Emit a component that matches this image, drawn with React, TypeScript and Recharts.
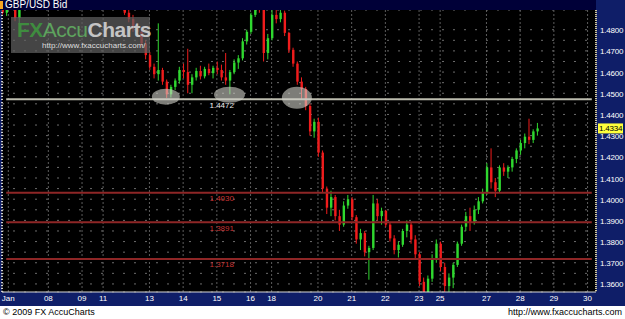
import React from 'react';
import {
  ComposedChart,
  Bar,
  XAxis,
  YAxis,
  CartesianGrid,
  ReferenceLine,
  ReferenceDot,
} from 'recharts';

// GBP/USD Bid, 3-hour bars, one array per trading session: [open, high, low, close]
const jan06 = [
  [1.4925, 1.495, 1.4872, 1.488],
  [1.488, 1.4915, 1.4865, 1.4905],
  [1.4905, 1.496, 1.4895, 1.4945],
];
const jan07 = [
  [1.4945, 1.4955, 1.484, 1.4855],
  [1.4855, 1.4925, 1.4825, 1.491],
  [1.491, 1.501, 1.49, 1.4995],
  [1.4995, 1.508, 1.498, 1.506],
  [1.506, 1.512, 1.503, 1.51],
  [1.51, 1.516, 1.506, 1.508],
  [1.508, 1.513, 1.502, 1.505],
  [1.505, 1.511, 1.501, 1.509],
];
const jan08 = [
  [1.509, 1.514, 1.504, 1.507],
  [1.507, 1.509, 1.499, 1.501],
  [1.501, 1.506, 1.496, 1.504],
  [1.504, 1.512, 1.502, 1.51],
  [1.51, 1.518, 1.508, 1.515],
  [1.515, 1.521, 1.511, 1.513],
  [1.513, 1.517, 1.509, 1.516],
  [1.516, 1.522, 1.513, 1.519],
];
const jan09 = [
  [1.519, 1.525, 1.515, 1.522],
  [1.522, 1.528, 1.517, 1.52],
  [1.52, 1.523, 1.51, 1.512],
  [1.512, 1.516, 1.505, 1.508],
  [1.508, 1.513, 1.504, 1.511],
];
const jan11 = [
  [1.51, 1.513, 1.506, 1.508],
  [1.508, 1.51, 1.502, 1.504],
  [1.504, 1.507, 1.499, 1.501],
];
const jan12 = [
  [1.501, 1.503, 1.494, 1.496],
  [1.496, 1.499, 1.491, 1.493],
  [1.493, 1.495, 1.487, 1.488],
  [1.488, 1.49, 1.4835, 1.485],
  [1.485, 1.487, 1.479, 1.481],
  [1.481, 1.483, 1.477, 1.479],
  [1.479, 1.48, 1.472, 1.4735],
  [1.4735, 1.475, 1.466, 1.468],
];
const jan13 = [
  [1.468, 1.4695, 1.461, 1.4625],
  [1.4625, 1.464, 1.457, 1.459],
  [1.459, 1.483, 1.456, 1.461],
  [1.461, 1.462, 1.454, 1.4555],
  [1.4555, 1.4565, 1.4478, 1.4495],
  [1.4495, 1.454, 1.448, 1.453],
  [1.453, 1.457, 1.4515, 1.456],
  [1.456, 1.4625, 1.4545, 1.461],
];
const jan14 = [
  [1.461, 1.464, 1.457, 1.46],
  [1.46, 1.471, 1.45, 1.454],
  [1.454, 1.459, 1.45, 1.4575],
  [1.4575, 1.462, 1.456, 1.4605],
  [1.4605, 1.463, 1.4565, 1.458],
  [1.458, 1.4625, 1.457, 1.4615],
  [1.4615, 1.464, 1.4585, 1.4595],
  [1.4595, 1.463, 1.457, 1.462],
];
const jan15 = [
  [1.462, 1.465, 1.459, 1.461],
  [1.461, 1.4635, 1.456, 1.4575],
  [1.4575, 1.469, 1.454, 1.456],
  [1.456, 1.461, 1.4495, 1.46],
  [1.46, 1.466, 1.459, 1.4645],
  [1.4645, 1.468, 1.4615, 1.4665],
  [1.4665, 1.476, 1.4655, 1.4745],
  [1.4745, 1.48, 1.473, 1.479],
];
const jan16 = [
  [1.479, 1.488, 1.478, 1.487],
  [1.487, 1.495, 1.486, 1.493],
  [1.493, 1.498, 1.488, 1.49],
  [1.49, 1.491, 1.465, 1.469],
  [1.469, 1.478, 1.466, 1.476],
];
const jan18 = [
  [1.476, 1.49, 1.475, 1.487],
  [1.487, 1.491, 1.483, 1.485],
  [1.485, 1.49, 1.4835, 1.488],
];
const jan19 = [
  [1.488, 1.489, 1.477, 1.4785],
  [1.4785, 1.479, 1.469, 1.4705],
  [1.4705, 1.4715, 1.4625, 1.464],
  [1.464, 1.465, 1.454, 1.4555],
  [1.4555, 1.4575, 1.447, 1.452],
  [1.452, 1.453, 1.442, 1.444],
  [1.444, 1.445, 1.43, 1.432],
  [1.432, 1.438, 1.429, 1.4365],
];
const jan20 = [
  [1.4365, 1.4385, 1.42, 1.422],
  [1.422, 1.423, 1.403, 1.405],
  [1.405, 1.406, 1.393, 1.396],
  [1.396, 1.404, 1.392, 1.401],
  [1.401, 1.402, 1.39, 1.392],
  [1.392, 1.395, 1.385, 1.388],
  [1.388, 1.399, 1.387, 1.397],
  [1.397, 1.402, 1.3955, 1.4],
];
const jan21 = [
  [1.4, 1.401, 1.39, 1.3915],
  [1.3915, 1.3925, 1.379, 1.381],
  [1.381, 1.386, 1.376, 1.384],
  [1.384, 1.385, 1.373, 1.375],
  [1.375, 1.378, 1.362, 1.377],
  [1.377, 1.402, 1.376, 1.398],
  [1.398, 1.4, 1.39, 1.392],
  [1.392, 1.396, 1.388, 1.3945],
];
const jan22 = [
  [1.3945, 1.395, 1.387, 1.388],
  [1.388, 1.389, 1.38, 1.3815],
  [1.3815, 1.383, 1.374, 1.376],
  [1.376, 1.38, 1.3725, 1.3785],
  [1.3785, 1.386, 1.3775, 1.385],
  [1.385, 1.39, 1.382, 1.388],
  [1.388, 1.389, 1.379, 1.381],
  [1.381, 1.383, 1.372, 1.374],
];
const jan23 = [
  [1.374, 1.375, 1.359, 1.361],
  [1.361, 1.363, 1.3505, 1.354],
  [1.354, 1.364, 1.352, 1.3625],
  [1.3625, 1.374, 1.361, 1.372],
  [1.372, 1.381, 1.37, 1.379],
];
const jan25 = [
  [1.379, 1.38, 1.366, 1.368],
  [1.368, 1.37, 1.356, 1.359],
  [1.359, 1.365, 1.354, 1.363],
];
const jan26 = [
  [1.363, 1.37, 1.358, 1.369],
  [1.369, 1.38, 1.368, 1.379],
  [1.379, 1.388, 1.378, 1.387],
  [1.387, 1.394, 1.385, 1.392],
  [1.392, 1.396, 1.385, 1.389],
  [1.389, 1.397, 1.388, 1.395],
  [1.395, 1.401, 1.393, 1.399],
  [1.399, 1.405, 1.398, 1.403],
];
const jan27 = [
  [1.403, 1.417, 1.402, 1.415],
  [1.415, 1.424, 1.405, 1.408],
  [1.408, 1.41, 1.401, 1.404],
  [1.404, 1.416, 1.403, 1.415],
  [1.415, 1.417, 1.411, 1.413],
  [1.413, 1.416, 1.41, 1.415],
  [1.415, 1.42, 1.413, 1.419],
  [1.419, 1.424, 1.417, 1.423],
];
const jan28 = [
  [1.423, 1.428, 1.421, 1.4265],
  [1.4265, 1.431, 1.424, 1.4295],
  [1.4295, 1.438, 1.426, 1.428],
  [1.428, 1.433, 1.4265, 1.432],
  [1.432, 1.436, 1.43, 1.4334],
];

const sessions = [
  jan06, jan07, jan08, jan09, jan11, jan12, jan13, jan14, jan15, jan16,
  jan18, jan19, jan20, jan21, jan22, jan23, jan25, jan26, jan27, jan28,
];

// x axis: bar slots where each day starts
const dayLabels = ['Jan', '08', '09', '11', '13', '14', '15', '16', '18', '20', '21', '22', '23', '25', '27', '28', '29', '30'];
const daySlots = [1.5, 11, 19, 24, 35, 43, 51, 59, 64, 75, 83, 91, 99, 104, 115, 123, 131, 139];

const priceGrid = [
  1.36, 1.365, 1.37, 1.375, 1.38, 1.385, 1.39, 1.395, 1.4, 1.405, 1.41, 1.415,
  1.42, 1.425, 1.43, 1.435, 1.44, 1.445, 1.45, 1.455, 1.46, 1.465, 1.47, 1.475, 1.48,
];

const supportLevel = 1.4472;
const targetLevels = [1.403, 1.3891, 1.3718];

// the three tests of support (ellipses)
const touchSlots = [38.9, 54, 70];
const touchPrices = [1.4484, 1.4493, 1.4479];
const touchRx = [14, 15.5, 15];
const touchRy = [8, 8, 11];

const candles = sessions.flat().map(([open, high, low, close], i) => ({
  slot: i,
  open,
  high,
  low,
  close,
  range: [low, high],
}));
const lastClose = candles[candles.length - 1].close;

const UP = '#2fd82f';
const DOWN = '#f01c1c';
const FONT = '"Liberation Sans", Arial, sans-serif';

const Candle = (props: any) => {
  const { x, y, width, height, payload } = props;
  if (!payload) return null;
  const { open, high, low, close } = payload;
  const top = Math.min(y, y + height);
  const span = Math.abs(height);
  const k = span / (high - low);
  const cx = x + width / 2;
  const yO = top + (high - open) * k;
  const yC = top + (high - close) * k;
  const color = close >= open ? UP : DOWN;
  return (
    <g>
      <line x1={cx} x2={cx} y1={top} y2={top + span} stroke={color} strokeWidth={1} />
      <rect
        x={cx - 1}
        y={Math.min(yO, yC)}
        width={2.4}
        height={Math.max(1, Math.abs(yC - yO))}
        fill={color}
      />
    </g>
  );
};

const PriceTick = (props: any) => {
  const { x, y, payload } = props;
  const v = payload.value;
  if (Math.round(v * 1000) % 10 !== 0) return null;
  return (
    <text x={x} y={y + 3.5} fill="#ffffff" fontSize={8} fontFamily={FONT} letterSpacing={-0.2}>
      {v.toFixed(4)}
    </text>
  );
};

const levelLabel = (text: string, color: string) => (props: any) => {
  const { viewBox } = props;
  return (
    <text
      x={viewBox.x + viewBox.width * 0.368}
      y={viewBox.y + 8.5}
      fill={color}
      fontSize={8}
      fontFamily={FONT}
      textAnchor="middle"
    >
      {text}
    </text>
  );
};

const priceTag = (props: any) => {
  const { viewBox } = props;
  const left = viewBox.x + viewBox.width + 2;
  return (
    <g>
      <rect x={left} y={viewBox.y - 5} width={25} height={10} fill="#ffff3c" />
      <text x={left + 1} y={viewBox.y + 3} fill="#000" fontSize={8} fontFamily={FONT} letterSpacing={-0.2}>
        {lastClose.toFixed(4)}
      </text>
    </g>
  );
};

export default function App() {
  return (
    <div
      style={{
        position: 'absolute',
        left: 0,
        top: 0,
        width: 625,
        height: 319,
        background: '#ffffff',
        fontFamily: FONT,
        overflow: 'hidden',
      }}
    >
      <div style={{ position: 'absolute', left: 0, top: 0, width: 625, height: 306, background: '#0f1e68' }} />
      <div style={{ position: 'absolute', left: 0, top: 0 }}>
        <ComposedChart width={625} height={306} data={candles} margin={{ top: 10, right: 0, bottom: 0, left: 2 }}>
          <CartesianGrid fill="#000000" horizontal={false} stroke="#5c5c5c" strokeDasharray="2 2" />
          <CartesianGrid vertical={false} stroke="#6c6c6c" strokeDasharray="2 9" />
          <XAxis
            dataKey="slot"
            type="number"
            domain={[0, 141]}
            allowDataOverflow
            ticks={daySlots}
            interval={0}
            tickFormatter={(v: number) => dayLabels[daySlots.indexOf(v)]}
            tick={{ fill: '#ffffff', fontSize: 8, fontFamily: FONT }}
            tickLine={false}
            tickSize={0}
            tickMargin={3}
            axisLine={{ stroke: '#d8d8d8' }}
            height={14}
          />
          <YAxis
            orientation="right"
            width={29}
            domain={[1.3562, 1.4893]}
            allowDataOverflow
            ticks={priceGrid}
            interval={0}
            tick={<PriceTick />}
            tickLine={false}
            tickSize={0}
            tickMargin={4}
            axisLine={{ stroke: '#cfc6a0', strokeWidth: 2, strokeDasharray: '1 1' }}
          />
          <ReferenceLine x={0} stroke="#d0d0d0" strokeWidth={2} strokeDasharray="1 2" />
          <Bar dataKey="range" barSize={3} shape={<Candle />} isAnimationActive={false} />
          <ReferenceLine
            segment={[{ x: 1, y: supportLevel }, { x: 140, y: supportLevel }]}
            stroke="#bcbcae"
            strokeWidth={2}
            label={levelLabel(supportLevel.toFixed(4), '#e8e8e8')}
          />
          {targetLevels.map((lv) => (
            <ReferenceLine
              key={lv}
              segment={[{ x: 1, y: lv }, { x: 140, y: lv }]}
              stroke="#8e2626"
              strokeWidth={2}
              label={levelLabel(lv.toFixed(4), '#c83434')}
            />
          ))}
          {touchSlots.map((s, i) => (
            <ReferenceDot
              key={s}
              x={s}
              y={touchPrices[i]}
              r={10}
              shape={(p: any) => (
                <ellipse cx={p.cx} cy={p.cy} rx={touchRx[i]} ry={touchRy[i]} fill="#d0d0c8" fillOpacity={0.6} />
              )}
            />
          ))}
          <ReferenceLine y={lastClose} stroke="none" label={priceTag} />
        </ComposedChart>
      </div>
      <div style={{ position: 'absolute', left: 0, top: 0, width: 596, height: 10, background: '#000038' }} />
      <div style={{ position: 'absolute', left: 0, top: 1, width: 3, height: 8, background: '#f4a424' }} />
      <div style={{ position: 'absolute', left: 5, top: 0, fontSize: 10, lineHeight: '10px', color: '#ffffff' }}>
        GBP/USD Bid
      </div>
      <div
        style={{
          position: 'absolute',
          left: 11,
          top: 17,
          width: 139,
          height: 36,
          background: 'rgba(96,96,96,0.72)',
        }}
      >
        <div
          style={{
            position: 'absolute',
            left: 6,
            top: 2,
            fontSize: 21,
            lineHeight: '22px',
            fontWeight: 'bold',
            letterSpacing: -0.5,
            whiteSpace: 'nowrap',
          }}
        >
          <span style={{ color: '#3f8c3f' }}>FX</span>
          <span style={{ color: '#5ea35e', fontWeight: 'normal' }}>Accu</span>
          <span style={{ color: '#c4c4c4' }}>Charts</span>
        </div>
        <div style={{ position: 'absolute', left: 31, top: 24, fontSize: 8, color: '#dddddd', whiteSpace: 'nowrap' }}>
          http://www.fxaccucharts.com/
        </div>
      </div>
      <div style={{ position: 'absolute', left: 3, top: 307, fontSize: 9, lineHeight: '11px', color: '#000' }}>
        © 2009 FX AccuCharts
      </div>
      <div style={{ position: 'absolute', right: 3, top: 307, fontSize: 9, lineHeight: '11px', color: '#000' }}>
        http://www.fxaccucharts.com
      </div>
    </div>
  );
}
